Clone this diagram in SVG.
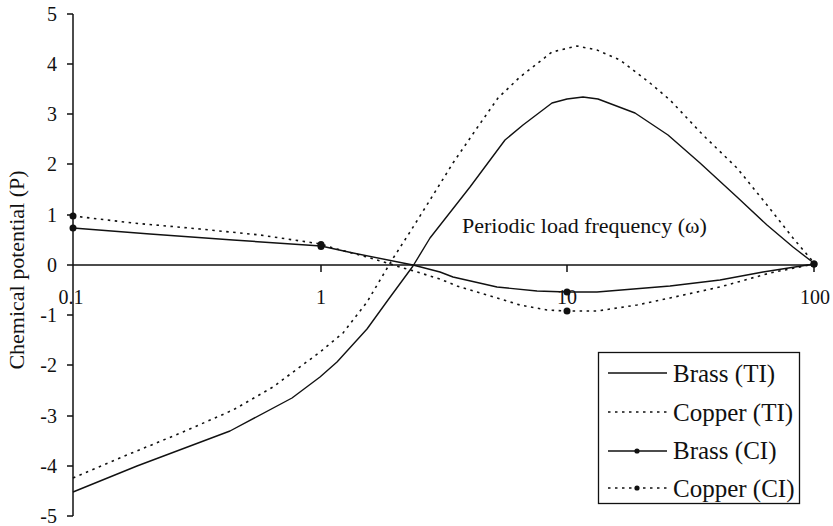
<svg xmlns="http://www.w3.org/2000/svg" width="833" height="526" viewBox="0 0 833 526" font-family="Liberation Serif, Tinos, Times New Roman, DejaVu Serif, serif">
  <style>
    text { fill: #111; }
    .tick { font-size: 20px; }
    .ylab { text-anchor: end; }
    .xlab { text-anchor: middle; }
    .title { font-size: 22px; }
    .leg { font-size: 25px; }
    .axis { stroke: #111; stroke-width: 1.5; fill: none; }
    .solid { stroke: #111; stroke-width: 1.4; fill: none; stroke-linejoin: round; }
    .dotted { stroke: #111; stroke-width: 1.6; fill: none; stroke-dasharray: 2.5 4.5; }
    .mark { fill: #111; }
  </style>
  <rect width="833" height="526" fill="#fff"/>

  <!-- axes -->
  <g id="axes">
    <line class="axis" x1="73" y1="14" x2="73" y2="516"/>
    <line class="axis" x1="67" y1="265" x2="816" y2="265"/>
    <path class="axis" d="M67 14H73M67 64H73M67 114H73M67 164H73M67 215H73M67 315H73M67 365H73M67 416H73M67 466H73M67 516H73"/>
    <path class="axis" d="M321 265V272M567 265V272M814 265V272"/>
    <g class="tick ylab">
      <text x="57" y="21">5</text>
      <text x="57" y="71">4</text>
      <text x="57" y="121">3</text>
      <text x="57" y="171">2</text>
      <text x="57" y="222">1</text>
      <text x="57" y="272">0</text>
      <text x="57" y="322">-1</text>
      <text x="57" y="372">-2</text>
      <text x="57" y="423">-3</text>
      <text x="57" y="473">-4</text>
      <text x="57" y="523">-5</text>
    </g>
    <g class="tick xlab">
      <text x="71" y="304">0.1</text>
      <text x="321" y="304">1</text>
      <text x="567" y="304">10</text>
      <text x="815" y="304">100</text>
    </g>
    <text class="title" transform="translate(24 270) rotate(-90)" text-anchor="middle">Chemical potential (P)</text>
    <text class="title" x="462" y="233">Periodic load frequency (ω)</text>
  </g>

  <!-- data series -->
  <g id="series">
    <g id="brass-ti">
      <polyline class="solid" points="73,492 137,466 230,431 292,398 320,377 337,362 367,329 388,300 413,266 430,238 470,187 505,140 523,125 552,103 567,99 583,97 598,99 635,113 668,135 700,163 737,197 767,225 793,247 815,264"/>
    </g>
    <g id="copper-ti">
      <polyline class="dotted" points="73,478 127,455 183,432 233,410 273,387 320,352 343,333 367,302 392,260 410,232 430,200 453,163 477,128 498,98 520,77 552,52 577,46 597,50 620,60 650,83 670,100 703,135 737,168 767,205 793,238 815,264"/>
    </g>
    <g id="brass-ci">
      <polyline class="solid" points="73,228 150,234 233,240 321,246 353,253 413,265 440,272 453,277 497,287 537,291 567,292 597,292 670,286 720,280 763,272 814,264"/>
      <circle class="mark" cx="73" cy="228" r="3.5"/>
      <circle class="mark" cx="321" cy="246.5" r="3.5"/>
      <circle class="mark" cx="567" cy="292" r="3.5"/>
      <circle class="mark" cx="814" cy="264" r="3.5"/>
    </g>
    <g id="copper-ci">
      <polyline class="dotted" points="73,216 133,223 200,229 260,235 321,244 333,248 367,257 400,267 417,272 440,279 457,286 487,295 520,305 547,310 566,311 597,311 637,305 670,298 720,287 770,273 814,264"/>
      <circle class="mark" cx="73" cy="216" r="3.5"/>
      <circle class="mark" cx="321" cy="244.5" r="3.5"/>
      <circle class="mark" cx="567" cy="311" r="3.5"/>
      <circle class="mark" cx="814" cy="264" r="3.5"/>
    </g>
  </g>

  <!-- legend -->
  <g id="legend">
    <rect x="598.5" y="352.5" width="201" height="151" fill="#fff" stroke="#111" stroke-width="1.3"/>
    <line class="solid" x1="608" y1="373" x2="667" y2="373"/>
    <line class="dotted" x1="608" y1="412" x2="667" y2="412"/>
    <line class="solid" x1="608" y1="451" x2="667" y2="451"/>
    <circle class="mark" cx="637" cy="451" r="2.6"/>
    <line class="dotted" x1="608" y1="488" x2="667" y2="488"/>
    <circle class="mark" cx="637" cy="488" r="2.6"/>
    <g class="leg">
      <text x="673" y="382">Brass (TI)</text>
      <text x="673" y="421">Copper (TI)</text>
      <text x="673" y="459">Brass (CI)</text>
      <text x="673" y="497">Copper (CI)</text>
    </g>
  </g>
</svg>
